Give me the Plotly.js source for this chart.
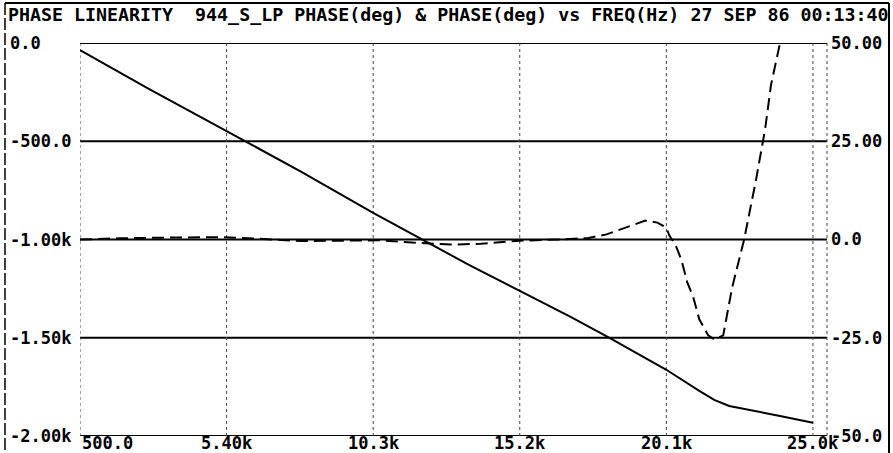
<!DOCTYPE html>
<html>
<head>
<meta charset="utf-8">
<script src="https://cdn.plot.ly/plotly-3.0.1.min.js"></script>
<style>html,body{margin:0;padding:0;background:#fff;}#chart{width:893px;height:453px;}</style>
</head>
<body>
<div id="chart"></div>
<script>
// ---- data ----
const titleText = "PHASE LINEARITY\u00a0\u00a0944_S_LP PHASE(deg) & PHASE(deg) vs FREQ(Hz) 27 SEP 86 00:13:40";

const freqTicks = [500, 5400, 10300, 15200, 20100, 25000];
const freqTickText = ["500.0", "5.40k", "10.3k", "15.2k", "20.1k", "25.0k"];
const leftTicks = [0, -500, -1000, -1500, -2000];
const leftTickText = ["0.0", "-500.0", "-1.00k", "-1.50k", "-2.00k"];
const rightTicks = [50, 25, 0, -25, -50];
const rightTickText = ["50.00", "25.00", "0.0", "-25.0", "-50.0"];

// solid trace: phase (deg), left axis
const freqSolid = [500, 2800, 5400, 7900, 10300, 11900, 13500, 15200, 16900, 18200, 20100, 21200, 21700, 22200, 22900, 23900, 25000];
const phaseSolid = [-36, -234, -448, -656, -865, -997, -1129, -1262, -1394, -1501, -1663, -1770, -1816, -1847, -1867, -1898, -1933];

// dashed trace: phase deviation (deg), right axis
const freqDashed = [500, 1800, 3500, 5200, 6500, 7900, 9200, 10500, 11900, 12900, 13900, 15200, 16500, 17500, 18100, 18700, 19400, 19800, 20100, 20200, 20400, 20600, 20800, 21000, 21200, 21500, 21700, 22000, 22300, 22700, 22900, 23100, 23400, 23600, 23900];
const phaseDashed = [0.0, 0.3, 0.5, 0.6, 0.2, -0.4, -0.3, -0.2, -0.9, -1.3, -1.1, -0.3, 0.0, 0.4, 1.3, 3.0, 4.8, 4.3, 3.0, 1.0, -1.3, -5.1, -10.9, -14.7, -20.3, -24.4, -25.4, -24.4, -12.2, 0.0, 7.6, 15.3, 28.0, 39.4, 50.0];

// ---- chart ----
const FONT = "DejaVu Sans Mono, Liberation Mono, monospace";
const labelFont = {family: FONT, size: 17, color: "#000", weight: "bold"};

const traces = [
  {x: freqSolid, y: phaseSolid, type: "scatter", mode: "lines", yaxis: "y",
   line: {color: "#000", width: 2}, hoverinfo: "skip"},
  {x: freqDashed, y: phaseDashed, type: "scatter", mode: "lines", yaxis: "y2",
   line: {color: "#000", width: 2, dash: "12px,6px"}, hoverinfo: "skip"}
];

const shapes = [];
leftTicks.forEach(v => shapes.push({type: "line", xref: "paper", x0: 0, x1: 1, yref: "y", y0: v, y1: v,
  line: {color: "#000", width: 2}, layer: "below"}));
freqTicks.forEach(v => shapes.push({type: "line", xref: "x", x0: v, x1: v, yref: "paper", y0: 0, y1: 1,
  line: {color: "#444", width: 1, dash: "dot"}, layer: "below"}));
shapes.push({type: "line", xref: "paper", x0: 1, x1: 1, yref: "paper", y0: 0, y1: 1,
  line: {color: "#444", width: 1, dash: "dot"}, layer: "below"});
// outer frame (pixel-derived paper coords)
const pxX = px => (px - 80) / 747;
const pxY = py => (436 - py) / 393;
shapes.push({type: "line", xref: "paper", yref: "paper", x0: pxX(5), x1: pxX(889), y0: pxY(3), y1: pxY(3), line: {color: "#000", width: 2}});
shapes.push({type: "line", xref: "paper", yref: "paper", x0: pxX(5), x1: pxX(5), y0: pxY(3), y1: pxY(453), line: {color: "#000", width: 1.5, dash: "12px,3px"}});
shapes.push({type: "line", xref: "paper", yref: "paper", x0: pxX(889), x1: pxX(889), y0: pxY(3), y1: pxY(453), line: {color: "#000", width: 2}});

const annotations = [];
leftTicks.forEach((v, i) => annotations.push({xref: "paper", x: pxX(8), xanchor: "left", yref: "y", y: v, yanchor: "middle",
  text: leftTickText[i], showarrow: false, font: labelFont}));
freqTicks.forEach((v, i) => annotations.push({xref: "x", x: v, xanchor: i === 0 ? "left" : "center", yref: "paper", y: pxY(443), yanchor: "middle",
  text: freqTickText[i], showarrow: false, font: labelFont}));

const layout = {
  width: 893, height: 453,
  margin: {l: 80, r: 66, t: 43, b: 17, pad: 0},
  paper_bgcolor: "#fff", plot_bgcolor: "#fff",
  showlegend: false,
  title: {text: titleText, xref: "container", yref: "container", x: 8 / 893, xanchor: "left",
          y: 1 - 15 / 453, yanchor: "middle", font: {family: FONT, size: 18.3, color: "#000", weight: "bold"}},
  xaxis: {range: [500, 25470], showgrid: false, zeroline: false, showline: false, showticklabels: false, ticks: "", fixedrange: true},
  yaxis: {range: [-2000, 0], showgrid: false, zeroline: false, showline: false, showticklabels: false, ticks: "", fixedrange: true},
  yaxis2: {range: [-50, 50], overlaying: "y", side: "right", showgrid: false, zeroline: false, showline: false,
           tickvals: rightTicks, ticktext: rightTickText, ticks: "", ticklabelstandoff: 3, tickfont: labelFont, fixedrange: true},
  shapes: shapes,
  annotations: annotations
};

Plotly.newPlot("chart", traces, layout, {staticPlot: true, displayModeBar: false});
</script>
</body>
</html>
